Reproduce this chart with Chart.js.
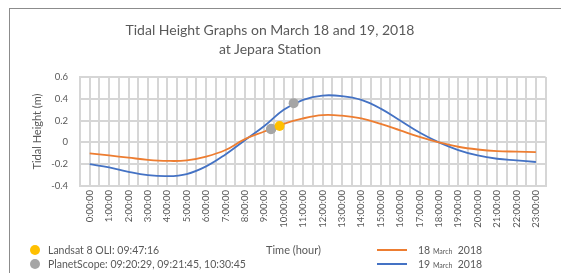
<!DOCTYPE html>
<html>
<head>
<meta charset="utf-8">
<script src="https://cdn.jsdelivr.net/npm/chart.js@4.4.0/dist/chart.umd.min.js"></script>
<style>
  body { margin: 0; background: #fff; font-family: Lato, "Liberation Sans", sans-serif; color: #595959; }
  #wrap { position: relative; width: 561px; height: 273px; overflow: hidden; }
  #frame { position: absolute; left: 9px; top: 8px; width: 600px; height: 300px; border: 1.5px solid #8c8c8c; box-sizing: border-box; }
  #c { position: absolute; left: 0; top: 0; }
  .t { position: absolute; left: 0; width: 540px; text-align: center; font-size: 14px; }
  .lg { position: absolute; font-size: 10.5px; white-space: nowrap; line-height: 12px; }
  .dot { position: absolute; width: 10px; height: 10px; border-radius: 50%; }
  .ln { position: absolute; width: 30px; height: 2px; }
  small { font-size: 7px; }
</style>
</head>
<body>
<div id="wrap">
  <div id="frame"></div>
  <canvas id="c" width="561" height="273"></canvas>
  <div class="t" style="top:21px">Tidal Height Graphs on March 18 and 19, 2018</div>
  <div class="t" style="top:40px">at Jepara Station</div>

  <div class="dot" style="left:30px;top:245px;background:#FFC000"></div>
  <div class="lg" style="left:48px;top:244px">Landsat 8 OLI: 09:47:16</div>
  <div class="dot" style="left:30px;top:259px;background:#A5A5A5"></div>
  <div class="lg" style="left:48px;top:258px">PlanetScope: 09:20:29, 09:21:45, 10:30:45</div>

  <div class="lg" style="left:266px;top:244px;font-size:11px">Time (hour)</div>

  <div class="ln" style="left:377px;top:249px;background:#ED7D31"></div>
  <div class="lg" style="left:418px;top:244px">18 <small>March</small> &nbsp;2018</div>
  <div class="ln" style="left:377px;top:263px;background:#4472C4"></div>
  <div class="lg" style="left:418px;top:258px">19 <small>March</small> &nbsp;2018</div>
</div>
<script>
const hours = ["0:00:00", "1:00:00", "2:00:00", "3:00:00", "4:00:00", "5:00:00", "6:00:00", "7:00:00",
  "8:00:00", "9:00:00", "10:00:00", "11:00:00", "12:00:00", "13:00:00", "14:00:00", "15:00:00",
  "16:00:00", "17:00:00", "18:00:00", "19:00:00", "20:00:00", "21:00:00", "22:00:00", "23:00:00"];

const march18 = [-0.10, -0.12, -0.14, -0.16, -0.17, -0.165, -0.13, -0.07, 0.03, 0.10, 0.17, 0.22,
  0.25, 0.245, 0.22, 0.17, 0.11, 0.05, 0.00, -0.04, -0.065, -0.08, -0.085, -0.09];

const march19 = [-0.20, -0.23, -0.27, -0.30, -0.31, -0.29, -0.22, -0.11, 0.02, 0.15, 0.30, 0.39,
  0.43, 0.425, 0.39, 0.31, 0.20, 0.09, 0.00, -0.07, -0.12, -0.15, -0.165, -0.18];

// acquisition times in hours and tide height at that moment
const landsatTime = [9.788];
const landsatHeight = [0.15];
const planetTime = [9.341, 9.363, 10.513];
const planetHeight = [0.12, 0.125, 0.36];

const yTicks = [-0.4, -0.2, 0, 0.2, 0.4, 0.6];

function pts(xs, ys) {
  return xs.map(function (x, i) { return { x: x, y: ys[i] }; });
}

const gridColor = '#d6d6d6';

new Chart(document.getElementById('c'), {
  type: 'line',
  data: {
    datasets: [
      {
        label: 'Landsat 8 OLI',
        data: pts(landsatTime, landsatHeight),
        showLine: false,
        pointRadius: 5,
        pointBackgroundColor: '#FFC000',
        pointBorderWidth: 0
      },
      {
        label: 'PlanetScope',
        data: pts(planetTime, planetHeight),
        showLine: false,
        pointRadius: 5,
        pointBackgroundColor: '#A5A5A5',
        pointBorderWidth: 0
      },
      {
        label: '18 March 2018',
        data: pts(hours.map(function (h, i) { return i; }), march18),
        borderColor: '#ED7D31',
        borderWidth: 1.8,
        pointRadius: 0,
        tension: 0.4
      },
      {
        label: '19 March 2018',
        data: pts(hours.map(function (h, i) { return i; }), march19),
        borderColor: '#4472C4',
        borderWidth: 1.8,
        pointRadius: 0,
        tension: 0.4
      }
    ]
  },
  options: {
    responsive: false,
    animation: false,
    layout: { padding: { left: 20, right: 7, top: 77, bottom: 37 } },
    plugins: { legend: { display: false }, tooltip: { enabled: false } },
    scales: {
      x: {
        type: 'linear',
        min: -0.5,
        max: 23.5,
        afterFit: function (s) { s.height = 50; },
        afterBuildTicks: function (s) {
          const t = [];
          for (let v = -0.5; v <= 23.5; v += 0.5) t.push({ value: v });
          s.ticks = t;
        },
        ticks: {
          autoSkip: false,
          minRotation: 90,
          maxRotation: 90,
          padding: 4,
          color: '#595959',
          font: { family: 'Lato', size: 9.5 },
          callback: function (v) { return Number.isInteger(v) ? hours[v] : ''; }
        },
        grid: { color: gridColor, lineWidth: 2, drawTicks: false },
        border: { color: gridColor, width: 2 }
      },
      y: {
        min: -0.4,
        max: 0.6,
        afterFit: function (s) { s.width = 60; },
        afterBuildTicks: function (s) {
          s.ticks = yTicks.map(function (v) { return { value: v }; });
        },
        ticks: {
          padding: 12,
          color: '#595959',
          font: { family: 'Lato', size: 9.5 },
          callback: function (v) { return String(Math.round(v * 10) / 10); }
        },
        grid: { color: gridColor, lineWidth: 2, drawTicks: false },
        border: { color: gridColor, width: 2 },
        title: {
          display: true,
          text: 'Tidal Height (m)',
          color: '#595959',
          font: { family: 'Lato', size: 11 },
          padding: { top: 11, bottom: 0 }
        }
      }
    }
  }
});
</script>
</body>
</html>
